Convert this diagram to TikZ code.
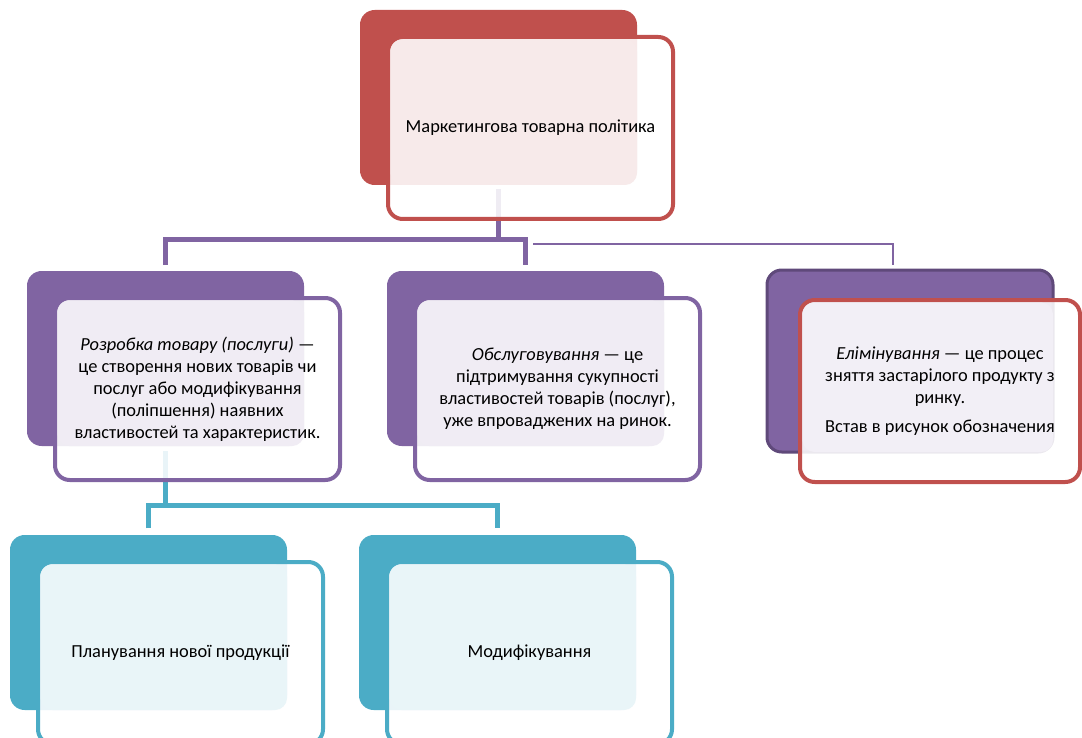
\documentclass[tikz,border=0pt]{standalone}
\usepackage{fontspec}
\setmainfont{Carlito}
\usepackage{tikz}
\usetikzlibrary{
    calc
}
\definecolor{accRed}{HTML}{C0504D}
\definecolor{accPurple}{HTML}{8064A2}
\definecolor{accPurpleDark}{HTML}{5F497A}
\definecolor{accTeal}{HTML}{4BACC6}
\pgfdeclarelayer{background}
\pgfsetlayers{background,main}
\tikzset{
  backcard/.style={rounded corners=11pt, inner sep=0pt, outer sep=0pt,
    minimum width=207.75pt, minimum height=131.25pt, anchor=north west},
  frontcard/.style={rounded corners=11pt, inner sep=0pt, outer sep=0pt,
    line width=3pt, fill=white, fill opacity=0.88,
    minimum width=213.75pt, minimum height=136.5pt, anchor=north west},
  cardtext/.style={align=center, inner sep=0pt,
    font=\fontsize{13.8}{16.5}\selectfont},
  mainlink/.style={accPurple, line width=3.75pt},
  sidelink/.style={accPurple, line width=1.5pt},
  teallink/.style={accTeal, line width=3.75pt}
}
\newcommand{\SmartCard}[4]{%
  \node[backcard, fill=#2] (#1-b) at (#3) {};
  \node[frontcard, draw=#2] (#1) at ($(#1-b.north west)+(28,27)$) {};
  \fill[#2!12, rounded corners=9pt] ($(#1.north west)+(2.5,2.5)$) rectangle (#1-b.south east);
  \node[cardtext] (#1-t) at (#1.center) {#4};
}

\begin{document}
\begin{tikzpicture}[x=0.75pt,y=-0.75pt]
\useasboundingbox (0,0) rectangle (1082,738);

\SmartCard{mtp}{accRed}{360,10}{Маркетингова товарна політика}
\SmartCard{dev}{accPurple}{27,271}{\textit{Розробка товару (послуги)} —\\
  це створення нових товарів чи\\ послуг або модифікування\\
  (поліпшення) наявних\\ властивостей та характеристик.}
\SmartCard{serv}{accPurple}{387,271}{\textit{Обслуговування} — це\\
  підтримування сукупності\\ властивостей товарів (послуг),\\
  уже впроваджених на ринок.}
\SmartCard{plan}{accTeal}{10,535}{Планування нової продукції}
\SmartCard{mod}{accTeal}{359,535}{Модифікування}

% the third card has a dark rim and a red front
\node[backcard, fill=accPurple, draw=accPurpleDark, line width=2.25pt,
  minimum width=214.5pt, minimum height=136.5pt] (elim-b) at (767,270) {};
\node[frontcard, draw=accRed, minimum width=210pt] (elim) at (800,300) {};
\fill[accPurple!10, rounded corners=9pt] ($(elim.north west)+(2.5,2.5)$) rectangle (elim-b.south east);
\node[cardtext] (elim-t) at (elim.center) {\textit{Елімінування} — це процес\\
  зняття застарілого продукту з\\ ринку.\\[5pt] Встав в рисунок обозначения};

\begin{pgfonlayer}{background}
\coordinate (fork) at ($(mtp-b.south)+(0,55)$);
\coordinate (split) at ($(dev-b.south)+(0,59)$);
\coordinate (stub) at (533,244);
\coordinate (elim-in) at ($(elim-b.north)+(-17,0)$);
\draw[mainlink, shorten <=3pt] (mtp-b.south) -- (fork);
\draw[mainlink, shorten <=4.5pt, shorten >=4.5pt] (dev-b.north) |- (fork) -| (serv-b.north);
\draw[sidelink, shorten >=4pt] (stub) -| (elim-in);
\draw[teallink, shorten <=4pt] (dev-b.south) -- (split);
\draw[teallink, shorten <=5pt, shorten >=5pt] (plan-b.north) |- (split) -| (mod-b.north);
\end{pgfonlayer}
\end{tikzpicture}
\end{document}
